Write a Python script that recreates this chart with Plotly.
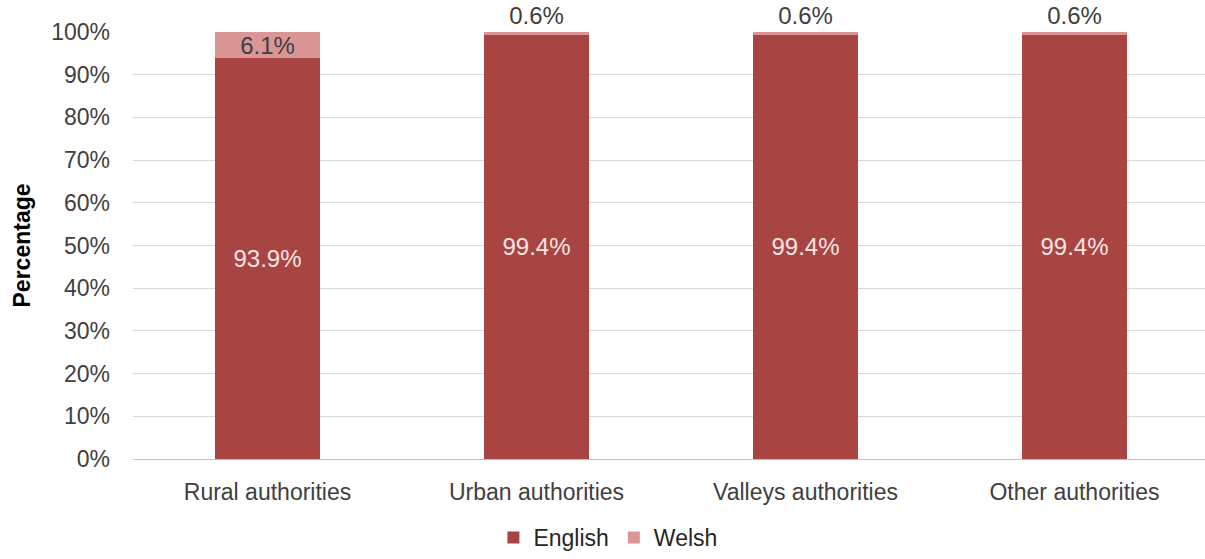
import plotly.graph_objects as go

categories = ["Rural authorities", "Urban authorities", "Valleys authorities", "Other authorities"]
english = [93.9, 99.4, 99.4, 99.4]
welsh = [6.1, 0.6, 0.6, 0.6]
tick_vals = [0, 10, 20, 30, 40, 50, 60, 70, 80, 90, 100]
tick_text = [f"{v}%" for v in tick_vals]

FONT = "Liberation Sans, Arial, sans-serif"

fig = go.Figure()
fig.add_trace(go.Bar(
    name="English", x=categories, y=english,
    marker=dict(color="#A84543", line=dict(width=0)),
    text=[f"{v}%" for v in english], textposition="inside", insidetextanchor="middle",
    textfont=dict(color="#F5E4E3", size=24, family=FONT),
    width=0.39,
))
fig.add_trace(go.Bar(
    name="Welsh", x=categories, y=welsh,
    marker=dict(color="#D99694", line=dict(width=0)),
    text=[f"{v}%" for v in welsh],
    textposition=["inside", "outside", "outside", "outside"],
    insidetextanchor="middle",
    textfont=dict(color="#404040", size=24, family=FONT),
    constraintext="none",
    cliponaxis=False,
    width=0.39,
))

fig.update_layout(
    barmode="stack",
    width=1205, height=559,
    margin=dict(l=133, r=0, t=32, b=100),
    paper_bgcolor="white", plot_bgcolor="white",
    font=dict(family=FONT, size=23, color="#404040"),
    uniformtext=dict(mode=False),
    legend=dict(
        orientation="h", x=0.443, xanchor="center",
        yref="container", y=0.0, yanchor="bottom",
        font=dict(size=23, color="#262626"),
        traceorder="normal", itemwidth=30,
    ),
    showlegend=True,
)
fig.update_xaxes(
    range=[-0.5, -0.5 + 1072 / 269],
    showgrid=False, showline=True, linecolor="#BFBFBF", linewidth=1,
    ticks="", tickfont=dict(size=23, color="#404040"),
    ticklabelstandoff=12,
)
fig.update_yaxes(
    range=[0, 100], tickvals=tick_vals, ticktext=tick_text,
    showgrid=True, gridcolor="#D9D9D9", gridwidth=1,
    zeroline=False, showline=False, ticks="",
    tickfont=dict(size=23, color="#404040"),
    ticklabelstandoff=22,
    title=dict(text="<b>Percentage</b>", font=dict(size=23, color="#000000"), standoff=14),
)

fig.write_html("out.html")
